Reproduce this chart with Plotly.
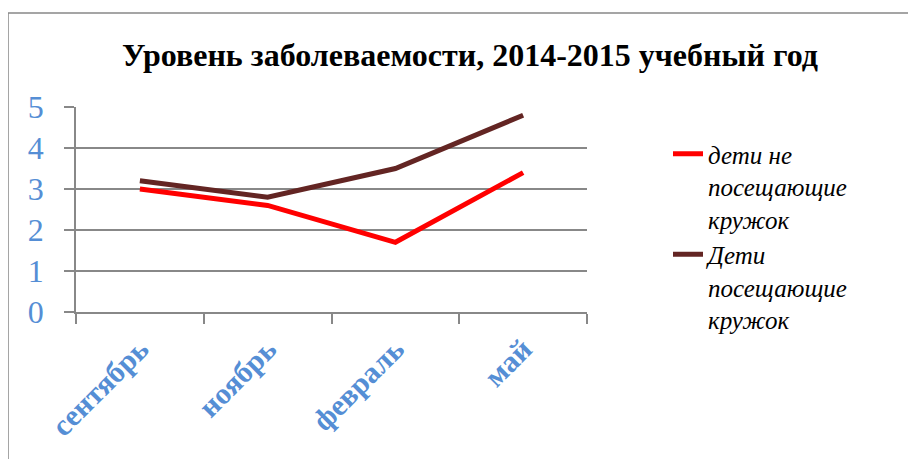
import plotly.graph_objects as go

months = ["сентябрь", "ноябрь", "февраль", "май"]
not_attending = [3.0, 2.6, 1.7, 3.4]
attending = [3.2, 2.8, 3.5, 4.8]
series_names = ["дети не<br>посещающие<br>кружок", "Дети<br>посещающие<br>кружок"]
title_text = "Уровень заболеваемости, 2014-2015 учебный год"

# page body has an 8px margin, so figure coords = screen coords - 8
W, H = 908, 451
L, R, T, B = 68, 579, 99, 304
pw, ph = R - L, B - T
SERIF = "Liberation Serif"

fig = go.Figure()
fig.add_trace(go.Scatter(x=months, y=not_attending, mode="lines", name=series_names[0],
                         line=dict(color="#FF0000", width=5)))
fig.add_trace(go.Scatter(x=months, y=attending, mode="lines", name=series_names[1],
                         line=dict(color="#632523", width=5)))

grid = "#888888"
fig.update_layout(
    width=W, height=H,
    margin=dict(l=L, r=W - R, t=T, b=H - B, autoexpand=False),
    paper_bgcolor="white", plot_bgcolor="white",
    title=dict(text="<b>" + title_text + "</b>", x=(462 - L) / pw, xref="paper", xanchor="center",
               y=1 - 47 / H, yanchor="middle", automargin=False,
               font=dict(family=SERIF, size=32, color="black")),
    font=dict(family=SERIF),
    legend=dict(x=(660 - L) / pw, y=(B - 123) / ph, xanchor="left", yanchor="top",
                valign="top", maxheight=400,
                font=dict(family=SERIF, size=25, color="black", style="italic"),
                bgcolor="rgba(0,0,0,0)", tracegroupgap=0),
    xaxis=dict(type="category", showgrid=False, showline=True, linecolor=grid, linewidth=1.5,
               ticks="outside", ticklen=10, tickcolor=grid, tickwidth=1.5, tickson="boundaries",
               tickangle=-45, automargin=False, ticklabelstandoff=6,
               tickfont=dict(family=SERIF, size=30, color="#558ED5", weight="bold"),
               range=[-0.5, 3.5]),
    yaxis=dict(range=[0, 5], dtick=1, showgrid=True, gridcolor=grid, gridwidth=1.5,
               showline=True, linecolor=grid, linewidth=1.5, zeroline=False,
               ticks="outside", ticklen=10, tickcolor=grid, tickwidth=1.5,
               ticklabelstandoff=14, automargin=False,
               tickfont=dict(family=SERIF, size=32, color="#558ED5")),
)
fig.add_shape(type="rect", xref="paper", yref="paper",
              x0=(0 - L) / pw, x1=(930 - L) / pw, y0=(B - 480) / ph, y1=(B - 5) / ph,
              line=dict(color=grid, width=1.5), fillcolor="rgba(0,0,0,0)", layer="below")
fig.write_html("out.html")
